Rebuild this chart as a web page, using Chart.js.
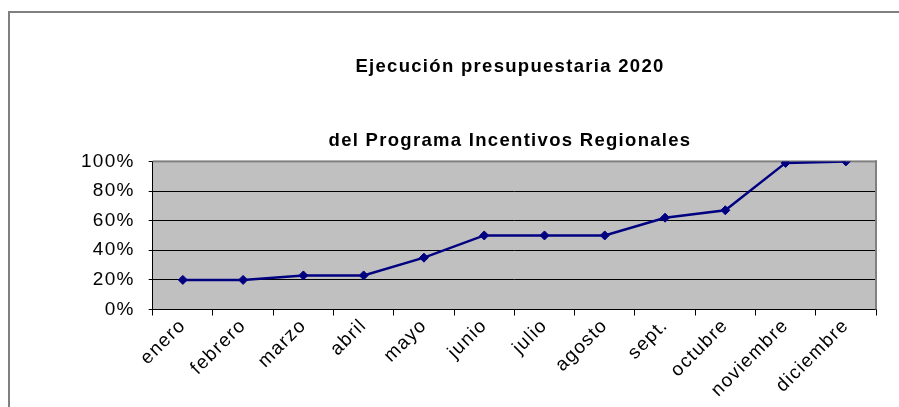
<!DOCTYPE html>
<html>
<head>
<meta charset="utf-8">
<script src="https://cdn.jsdelivr.net/npm/chart.js@4/dist/chart.umd.min.js"></script>
<style>
  body { margin: 0; background: #fff; }
  canvas { display: block; }
</style>
</head>
<body>
<canvas id="grafico" width="899" height="407"></canvas>
<script>
// datos del grafico
const meses = ['enero', 'febrero', 'marzo', 'abril', 'mayo', 'junio', 'julio', 'agosto', 'sept.', 'octubre', 'noviembre', 'diciembre'];
const ejecucion = [20, 20, 23, 23, 35, 50, 50, 50, 62, 67, 99, 100];
const titulo = 'Ejecución presupuestaria 2020';
const subtitulo = 'del Programa Incentivos Regionales';

const fuente = "'Liberation Sans', Arial, sans-serif";

// fondo gris del area, marco exterior y espaciado de letras
const fondoPlugin = {
    id: 'fondo',
    beforeLayout(chart) {
        chart.ctx.letterSpacing = '1.3px';
    },
    afterLayout(chart) {
        // centrar los titulos sobre el area del grafico (como en Excel)
        chart.boxes.forEach(function(b) {
            if (b.position === 'top' && b.options && b.options.text !== undefined) {
                b.left = 144;
                b.right = chart.chartArea.right;
            }
        });
    },
    beforeDraw(chart) {
        const ctx = chart.ctx;
        const a = chart.chartArea;
        ctx.save();
        ctx.fillStyle = '#ffffff';
        ctx.fillRect(0, 0, chart.width, chart.height);
        ctx.fillStyle = '#c0c0c0';
        ctx.fillRect(a.left, a.top, a.right - a.left, a.bottom - a.top);
        ctx.restore();
        ctx.letterSpacing = '1.3px';
    },
    beforeDatasetsDraw(chart) {
        const ctx = chart.ctx;
        const a = chart.chartArea;
        ctx.save();
        ctx.fillStyle = '#808080';
        ctx.fillRect(a.right - 1, a.top - 1, 2, a.bottom - a.top + 1);
        ctx.fillRect(a.left, a.top - 1, a.right - a.left + 1, 2);
        ctx.restore();
    },
    afterDraw(chart) {
        const ctx = chart.ctx;
        ctx.save();
        ctx.fillStyle = '#808080';
        ctx.fillRect(8, 11, 2, chart.height);
        ctx.fillRect(8, 11, chart.width, 2);
        ctx.restore();
    }
};

new Chart(document.getElementById('grafico'), {
    type: 'line',
    data: {
        labels: meses,
        datasets: [{
            data: ejecucion,
            borderColor: '#000080',
            backgroundColor: '#000080',
            borderWidth: 2.5,
            pointStyle: 'rectRot',
            pointRadius: 4.5,
            pointBorderWidth: 1,
            pointBackgroundColor: '#000080',
            pointBorderColor: '#000080',
            tension: 0,
            fill: false
        }]
    },
    options: {
        responsive: false,
        animation: false,
        devicePixelRatio: 1,
        layout: { padding: { left: 0, right: 23, top: 0, bottom: 0 } },
        plugins: {
            legend: { display: false },
            tooltip: { enabled: false },
            title: {
                display: true,
                text: titulo,
                color: '#000',
                font: { family: fuente, size: 18.5, weight: 'bold', lineHeight: 1.2 },
                padding: { top: 56, bottom: 0 }
            },
            subtitle: {
                display: true,
                text: subtitulo,
                color: '#000',
                font: { family: fuente, size: 18.5, weight: 'bold', lineHeight: 1.2 },
                padding: { top: 52, bottom: 9 }
            }
        },
        scales: {
            x: {
                offset: true,
                grid: {
                    offset: true,
                    drawOnChartArea: false,
                    drawTicks: true,
                    tickLength: 6,
                    color: '#000'
                },
                border: { color: '#000', width: 1 },
                ticks: {
                    color: '#000',
                    font: { family: fuente, size: 19 },
                    minRotation: 45,
                    maxRotation: 45,
                    autoSkip: false,
                    padding: -1
                },
                afterFit(scale) { scale.height = 97.5; }
            },
            y: {
                min: 0,
                max: 100,
                grid: {
                    color: '#000',
                    tickLength: 4,
                    drawTicks: true
                },
                border: { color: '#000', width: 1 },
                ticks: {
                    stepSize: 20,
                    color: '#000',
                    font: { family: fuente, size: 19 },
                    padding: 14,
                    callback: v => v + '%'
                },
                afterFit(scale) { scale.width = 152.7; }
            }
        }
    },
    plugins: [fondoPlugin]
});
</script>
</body>
</html>
